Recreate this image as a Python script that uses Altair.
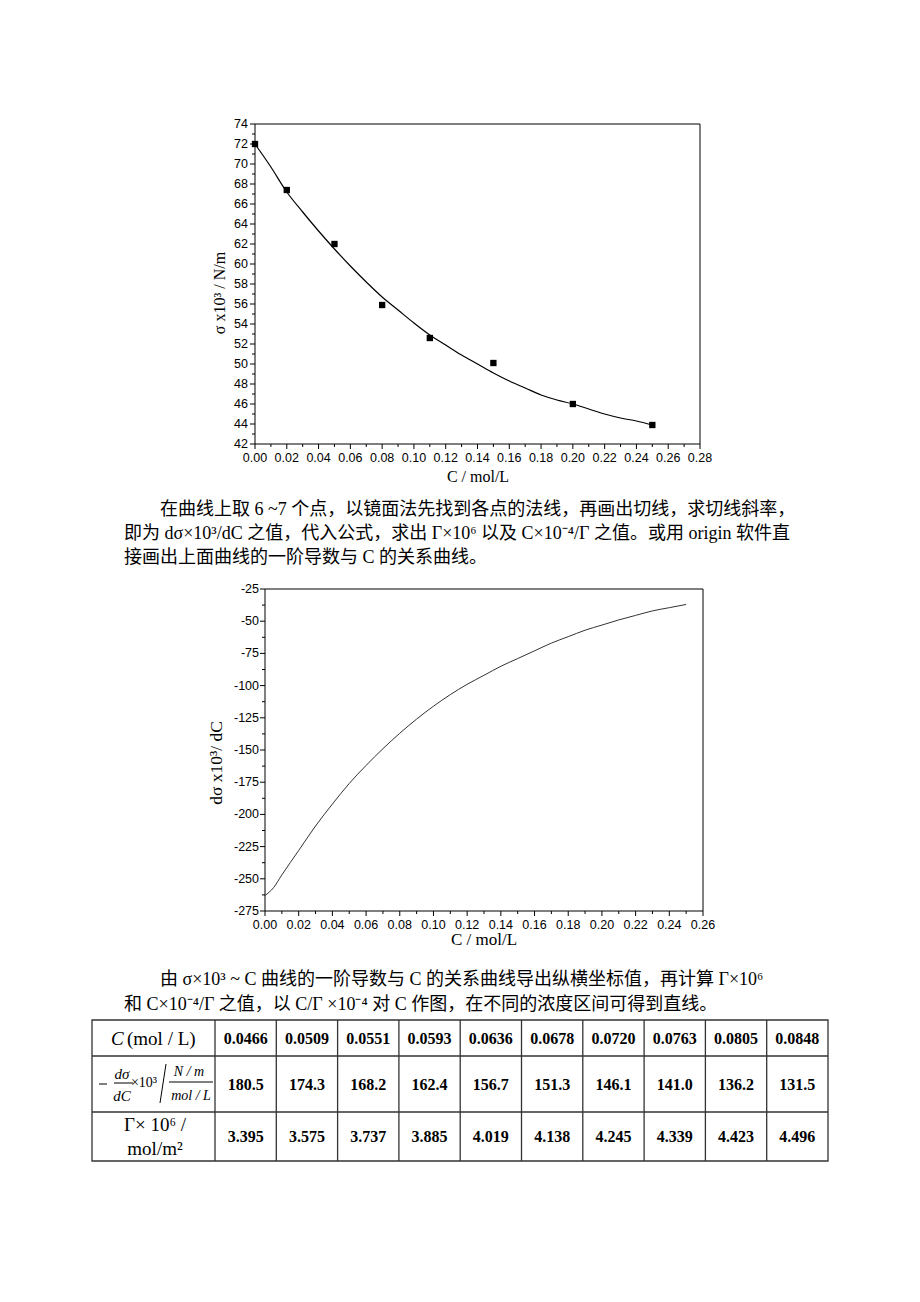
import altair as alt
import pandas as pd

# ---------------- data ----------------
# chart 1: surface tension vs concentration
c_pts = [0.00, 0.02, 0.05, 0.08, 0.11, 0.15, 0.20, 0.25]
sigma_pts = [72.0, 67.4, 62.0, 55.9, 52.6, 50.1, 46.0, 43.9]
c_fit = [0.00, 0.01, 0.02, 0.03, 0.04, 0.05, 0.06, 0.07, 0.08, 0.09, 0.10, 0.11, 0.12,
         0.13, 0.14, 0.15, 0.16, 0.17, 0.18, 0.19, 0.20, 0.21, 0.22, 0.23, 0.24, 0.25]
sigma_fit = [72.0, 69.7, 67.2, 65.2, 63.3, 61.5, 59.8, 58.2, 56.7, 55.4, 54.1, 52.9, 51.9,
             50.9, 50.0, 49.1, 48.3, 47.6, 46.9, 46.4, 46.0, 45.5, 45.0, 44.6, 44.3, 43.9]
x1_ticks = [0.00, 0.02, 0.04, 0.06, 0.08, 0.10, 0.12, 0.14, 0.16, 0.18, 0.20, 0.22, 0.24, 0.26, 0.28]
x1_minor = [0.01, 0.03, 0.05, 0.07, 0.09, 0.11, 0.13, 0.15, 0.17, 0.19, 0.21, 0.23, 0.25, 0.27]
y1_ticks = [42, 44, 46, 48, 50, 52, 54, 56, 58, 60, 62, 64, 66, 68, 70, 72, 74]
y1_minor = [43, 45, 47, 49, 51, 53, 55, 57, 59, 61, 63, 65, 67, 69, 71, 73]

# chart 2: first derivative
c_der = [0.000, 0.005, 0.010, 0.020, 0.030, 0.040, 0.050, 0.060, 0.070, 0.080, 0.090, 0.100,
         0.110, 0.120, 0.130, 0.140, 0.150, 0.160, 0.170, 0.180, 0.190, 0.200, 0.210, 0.220,
         0.230, 0.240, 0.250]
dsig = [-263, -257, -247, -228, -209, -192, -176, -162, -149, -137, -126, -116,
        -107, -99, -92, -85, -79, -73, -67, -62, -57, -53, -49, -45.5,
        -42, -39.5, -37]
x2_ticks = [0.00, 0.02, 0.04, 0.06, 0.08, 0.10, 0.12, 0.14, 0.16, 0.18, 0.20, 0.22, 0.24, 0.26]
x2_minor = [0.01, 0.03, 0.05, 0.07, 0.09, 0.11, 0.13, 0.15, 0.17, 0.19, 0.21, 0.23, 0.25]
y2_ticks = [-275, -250, -225, -200, -175, -150, -125, -100, -75, -50, -25]
y2_minor = [-262.5, -237.5, -212.5, -187.5, -162.5, -137.5, -112.5, -87.5, -62.5, -37.5]

# table
tab_c = ["0.0466", "0.0509", "0.0551", "0.0593", "0.0636", "0.0678", "0.0720", "0.0763", "0.0805", "0.0848"]
tab_slope = ["180.5", "174.3", "168.2", "162.4", "156.7", "151.3", "146.1", "141.0", "136.2", "131.5"]
tab_gamma = ["3.395", "3.575", "3.737", "3.885", "4.019", "4.138", "4.245", "4.339", "4.423", "4.496"]

# texts
para1 = ["在曲线上取 6 ~7 个点，以镜面法先找到各点的法线，再画出切线，求切线斜率，",
         "即为 dσ×10³/dC 之值，代入公式，求出 Γ×10⁶ 以及 C×10⁻⁴/Γ 之值。或用 origin 软件直",
         "接画出上面曲线的一阶导数与 C 的关系曲线。"]
para2 = ["由 σ×10³ ~ C 曲线的一阶导数与 C 的关系曲线导出纵横坐标值，再计算 Γ×10⁶",
         "和 C×10⁻⁴/Γ 之值，以 C/Γ ×10⁻⁴ 对 C 作图，在不同的浓度区间可得到直线。"]
x_title = "C / mol/L"
y1_title = "σ x10³ / N/m"
y2_title = "dσ x10³/ dC"

# ---------------- layout ----------------
W, H = 904, 1286
SERIF = "Liberation Serif"
SANS = "Liberation Sans"
CJK = "Liberation Serif, Noto Sans CJK SC"
one = pd.DataFrame({"k": [0]})


def text(s, x, y, size, font=SERIF, angle=0, align="center", style="normal", weight="normal"):
    kw = dict(font=font, fontSize=size, align=align, baseline="middle", color="black",
              fontStyle=style, fontWeight=weight)
    if angle:
        kw["angle"] = angle
    return alt.Chart(one).mark_text(**kw).encode(
        x=alt.value(x), y=alt.value(y), text=alt.value(s))


def hline(x0, x1, y, color="black", w=1):
    return alt.Chart(one).mark_rule(color=color, strokeWidth=w).encode(
        x=alt.value(x0), x2=alt.value(x1), y=alt.value(y))


def seg(x0, y0, x1, y1, color="black", w=1):
    return alt.Chart(one).mark_rule(color=color, strokeWidth=w).encode(
        x=alt.value(x0), x2=alt.value(x1), y=alt.value(y0), y2=alt.value(y1))


def frame(x0, x1, y0, y1, color="black", w=1):
    return alt.Chart(one).mark_rect(fillOpacity=0, stroke=color, strokeWidth=w).encode(
        x=alt.value(x0), x2=alt.value(x1), y=alt.value(y0), y2=alt.value(y1))


def plot_panel(xd, yd, px0, px1, py0, py1, xt, xm, yt, ym, xlab, ylab, ylab_gap,
               line_df, line_color, line_w, pts_df=None):
    xs = alt.Scale(domain=xd, range=[px0, px1], nice=False, zero=False)
    ys = alt.Scale(domain=yd, range=[py1, py0], nice=False, zero=False)
    layers = [frame(px0, px1, py0, py1)]
    layers.append(alt.Chart(line_df).mark_line(color=line_color, strokeWidth=line_w,
                                               interpolate="monotone").encode(
        x=alt.X("c:Q", scale=xs, axis=None), y=alt.Y("s:Q", scale=ys, axis=None)))
    if pts_df is not None:
        layers.append(alt.Chart(pts_df).mark_square(color="black", size=40, opacity=1).encode(
            x=alt.X("c:Q", scale=xs, axis=None), y=alt.Y("s:Q", scale=ys, axis=None)))
    # minor ticks
    layers.append(alt.Chart(pd.DataFrame({"v": xm})).mark_rule(color="black", strokeWidth=1).encode(
        x=alt.X("v:Q", scale=xs, axis=None), y=alt.value(py1), y2=alt.value(py1 + 3)))
    layers.append(alt.Chart(pd.DataFrame({"v": ym})).mark_rule(color="black", strokeWidth=1).encode(
        y=alt.Y("v:Q", scale=ys, axis=None), x=alt.value(px0 - 3), x2=alt.value(px0)))
    # major ticks
    dfx = pd.DataFrame({"v": xt, "t": xlab})
    dfy = pd.DataFrame({"v": yt, "t": ylab})
    layers.append(alt.Chart(dfx).mark_rule(color="black", strokeWidth=1).encode(
        x=alt.X("v:Q", scale=xs, axis=None), y=alt.value(py1), y2=alt.value(py1 + 5)))
    layers.append(alt.Chart(dfy).mark_rule(color="black", strokeWidth=1).encode(
        y=alt.Y("v:Q", scale=ys, axis=None), x=alt.value(px0 - 5), x2=alt.value(px0)))
    # tick labels
    layers.append(alt.Chart(dfx).mark_text(font=SANS, fontSize=12.5, color="black",
                                           align="center", baseline="middle").encode(
        x=alt.X("v:Q", scale=xs, axis=None), y=alt.value(py1 + 14), text="t:N"))
    layers.append(alt.Chart(dfy).mark_text(font=SANS, fontSize=12.5, color="black",
                                           align="right", baseline="middle").encode(
        y=alt.Y("v:Q", scale=ys, axis=None), x=alt.value(px0 - ylab_gap), text="t:N"))
    return alt.layer(*layers)


chart1 = plot_panel([0, 0.28], [42, 74], 247, 692, 116, 436, x1_ticks, x1_minor, y1_ticks, y1_minor,
                    [f"{v:.2f}" for v in x1_ticks], [f"{v:d}" for v in y1_ticks], 7,
                    pd.DataFrame({"c": c_fit, "s": sigma_fit}), "black", 1.2,
                    pd.DataFrame({"c": c_pts, "s": sigma_pts}))
chart2 = plot_panel([0, 0.26], [-275, -25], 257, 695, 581, 903, x2_ticks, x2_minor, y2_ticks, y2_minor,
                    [f"{v:.2f}" for v in x2_ticks], [f"{v:d}" for v in y2_ticks], 6,
                    pd.DataFrame({"c": c_der, "s": dsig}), "#333333", 1.0)

titles = [
    text(x_title, 470, 469, 16),
    text(y1_title, 212, 285, 16, angle=270),
    text(x_title, 476, 932, 17),
    text(y2_title, 209, 755, 17.5, angle=270),
]

paras = [
    text(para1[0], 152, 502, 18, font=CJK, align="left"),
    text(para1[1], 116, 526, 18, font=CJK, align="left"),
    text(para1[2], 116, 550, 18, font=CJK, align="left"),
    text(para2[0], 152, 972, 18, font=CJK, align="left"),
    text(para2[1], 116, 997, 18, font=CJK, align="left"),
]

# ---------------- table ----------------
TX0, TX1, TC1 = 84, 820, 207
TY0, TR1, TR2, TY1 = 1012, 1048, 1104, 1153
grid_c = "#333333"
df_tab = pd.DataFrame({"col": tab_c, "r1": tab_c, "r2": tab_slope, "r3": tab_gamma})
xs_tab = alt.Scale(type="band", domain=tab_c, range=[TC1, TX1], paddingInner=0, paddingOuter=0)

tab_layers = [frame(TX0, TX1, TY0, TY1, grid_c, 1.3),
              hline(TX0, TX1, TR1, grid_c, 1.3),
              hline(TX0, TX1, TR2, grid_c, 1.3),
              alt.Chart(df_tab).mark_rule(color=grid_c, strokeWidth=1.3).encode(
                  x=alt.X("col:N", scale=xs_tab, bandPosition=0, axis=None),
                  y=alt.value(TY0), y2=alt.value(TY1))]
for field, yy in [("r1", 1031), ("r2", 1077), ("r3", 1129)]:
    tab_layers.append(alt.Chart(df_tab).mark_text(font=SERIF, fontSize=16, fontWeight="bold",
                                                  color="black", baseline="middle", align="center").encode(
        x=alt.X("col:N", scale=xs_tab, bandPosition=0.5, axis=None),
        y=alt.value(yy), text=alt.Text(f"{field}:N")))

row_labels = [
    text("C", 103, 1031, 19, align="left", style="italic"),
    text("(mol / L)", 119, 1031, 19, align="left"),
    hline(91, 99, 1076),
    text("dσ", 114, 1066, 15, style="italic"),
    hline(106, 125, 1075),
    text("dC", 114, 1088, 15, style="italic"),
    text("×10³", 136, 1075, 14),
    seg(158, 1056, 152, 1095),
    text("N / m", 181, 1064, 14, style="italic"),
    hline(161, 205, 1074),
    text("mol / L", 183, 1088, 14, style="italic"),
    text("Γ× 10⁶ /", 147, 1117, 19),
    text("mol/m²", 147, 1141, 19),
]

table = alt.layer(*tab_layers)

page = alt.layer(chart1, chart2, table, *titles, *paras, *row_labels).resolve_scale(
    x="independent", y="independent"
).properties(
    width=W, height=H, padding=0, autosize=alt.AutoSizeParams(type="none"),
    background="white"
).configure_view(strokeWidth=0)

page.save("out.html", embed_options={"renderer": "svg", "actions": False})
